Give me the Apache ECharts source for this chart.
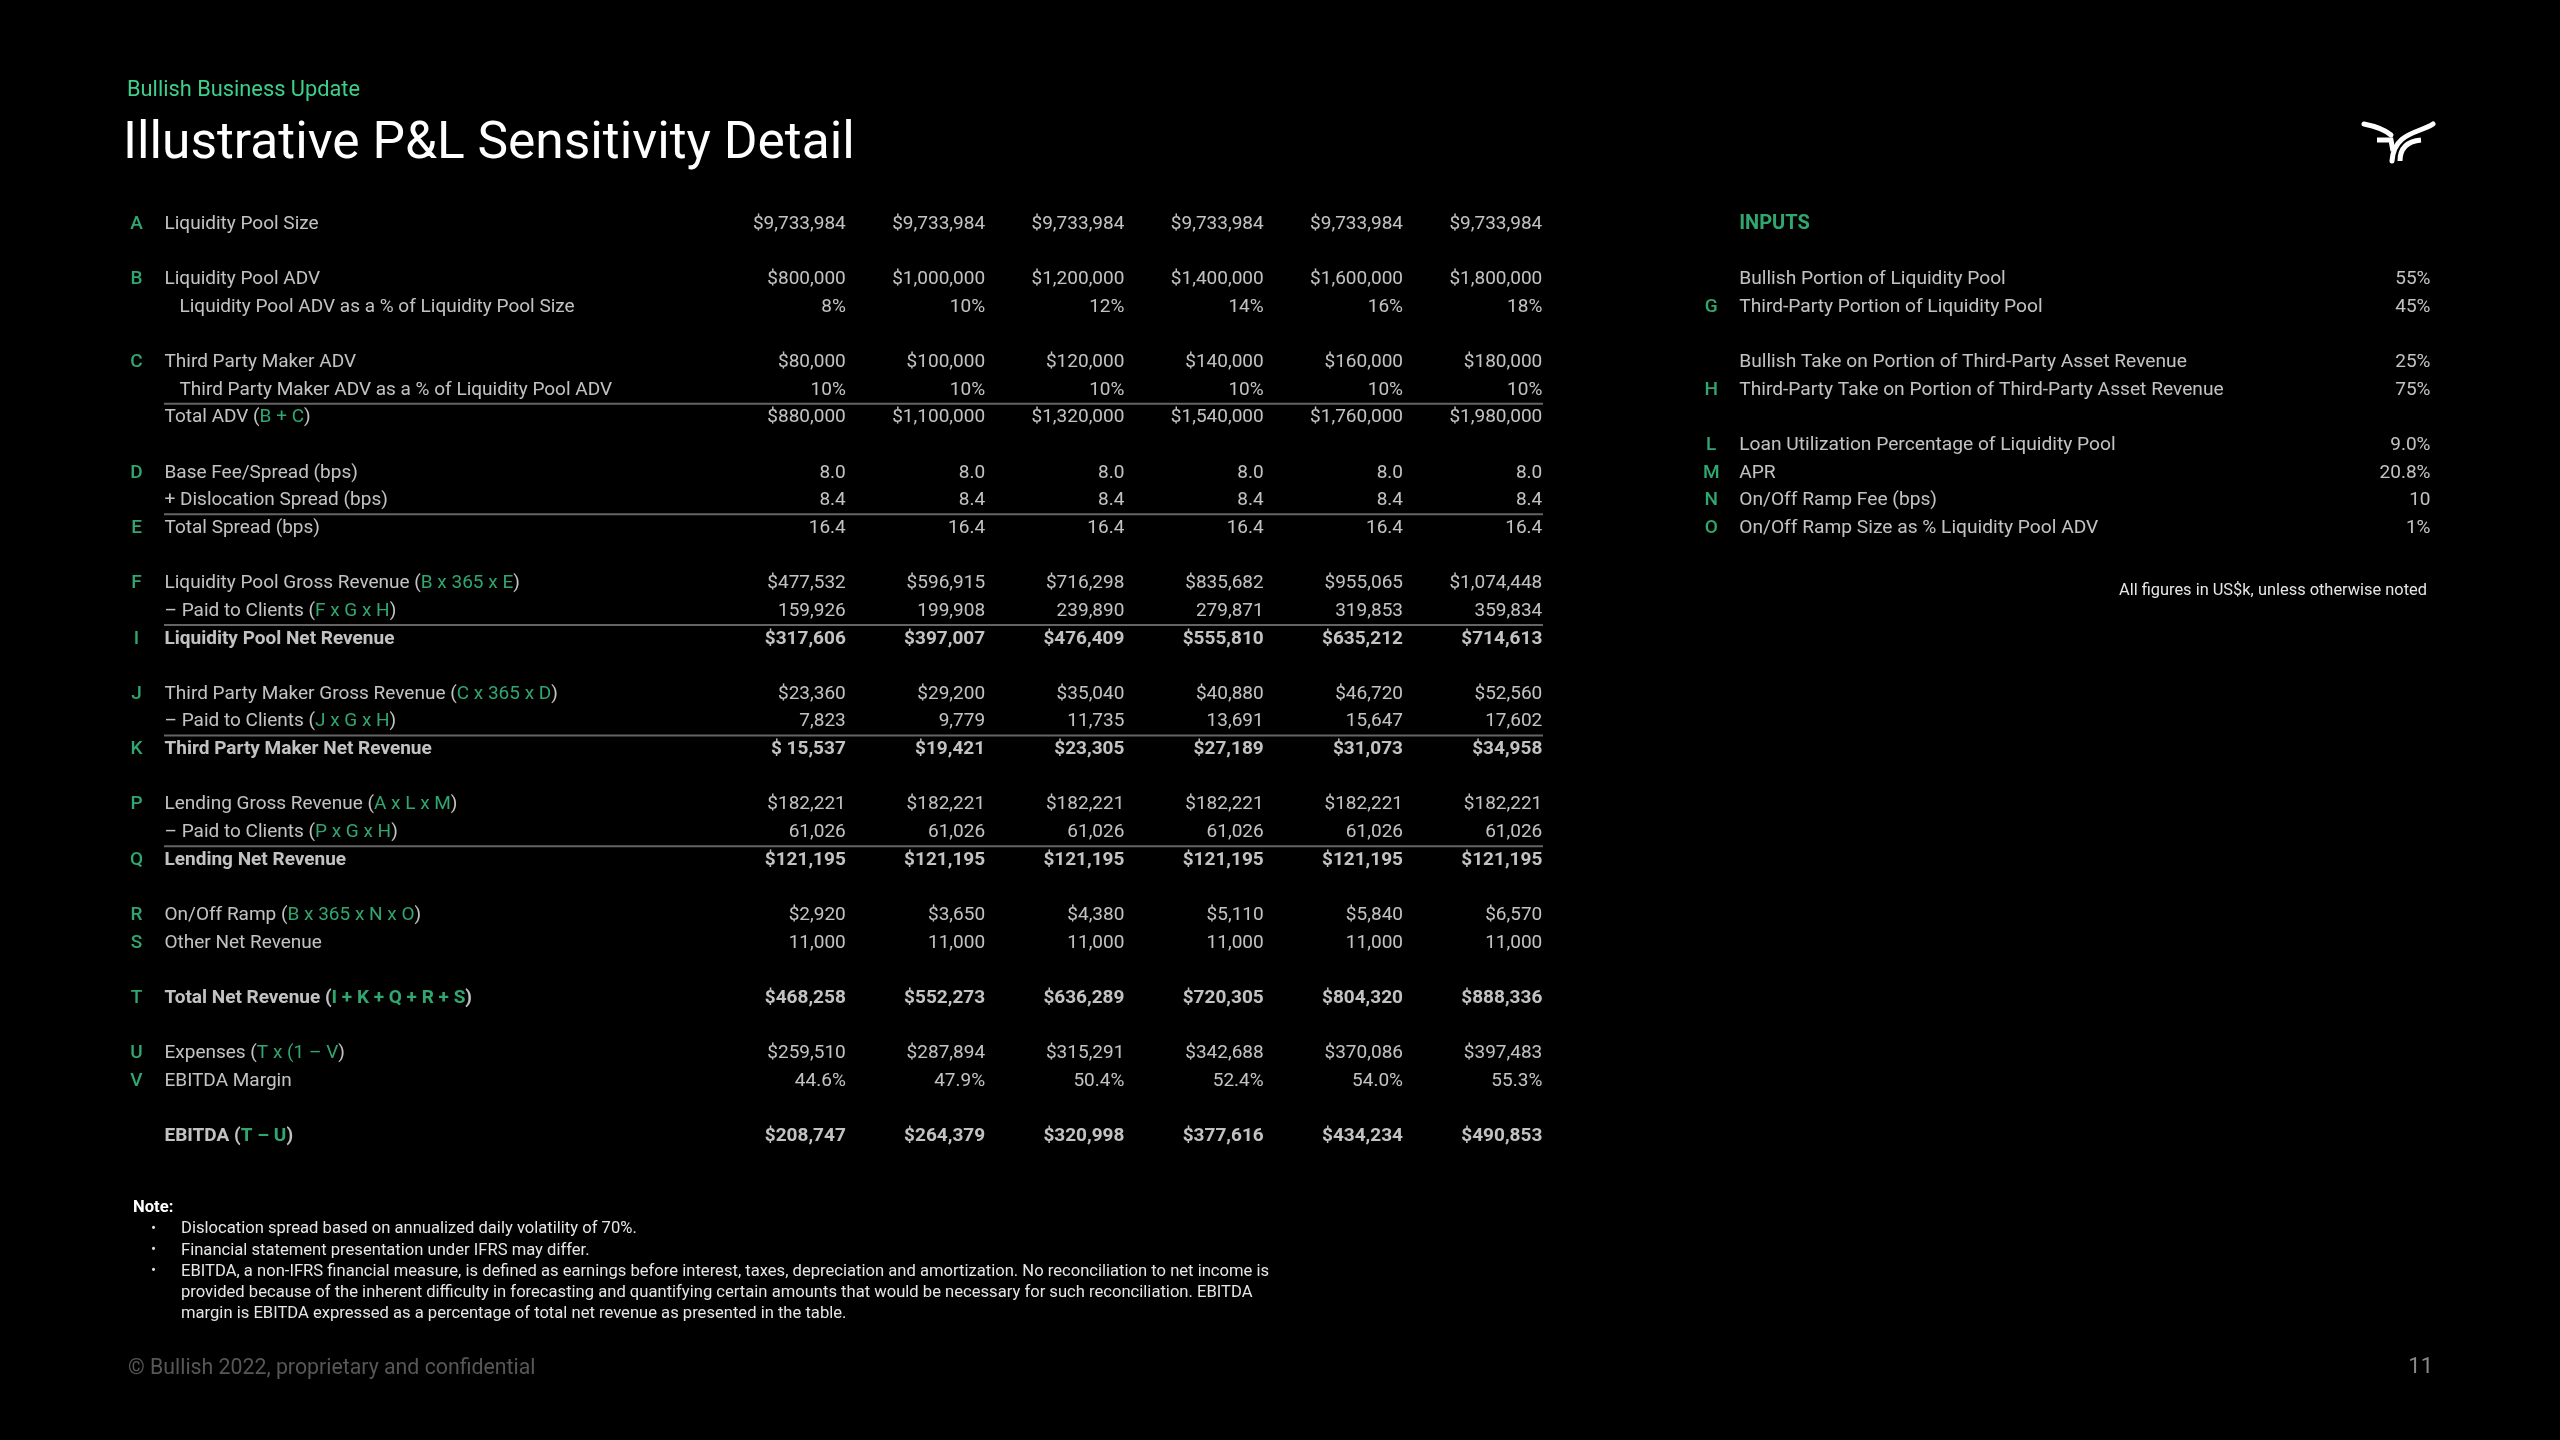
<!DOCTYPE html>
<html><head><meta charset="utf-8">
<script src="https://cdn.jsdelivr.net/npm/echarts@6/dist/echarts.min.js"></script>
<style>html,body{margin:0;padding:0;background:#000;}#c{width:2560px;height:1440px;}</style>
</head><body><div id="c"></div>
<script>
// ---------- DATA ----------
const columns = ['c1', 'c2', 'c3', 'c4', 'c5', 'c6'];
const poolSize      = [9733984, 9733984, 9733984, 9733984, 9733984, 9733984];
const poolADV       = [800000, 1000000, 1200000, 1400000, 1600000, 1800000];
const poolADVPct    = [8, 10, 12, 14, 16, 18];
const makerADV      = [80000, 100000, 120000, 140000, 160000, 180000];
const makerADVPct   = [10, 10, 10, 10, 10, 10];
const totalADV      = [880000, 1100000, 1320000, 1540000, 1760000, 1980000];
const baseFee       = [8.0, 8.0, 8.0, 8.0, 8.0, 8.0];
const dislocation   = [8.4, 8.4, 8.4, 8.4, 8.4, 8.4];
const totalSpread   = [16.4, 16.4, 16.4, 16.4, 16.4, 16.4];
const poolGross     = [477532, 596915, 716298, 835682, 955065, 1074448];
const poolPaid      = [159926, 199908, 239890, 279871, 319853, 359834];
const poolNet       = [317606, 397007, 476409, 555810, 635212, 714613];
const makerGross    = [23360, 29200, 35040, 40880, 46720, 52560];
const makerPaid     = [7823, 9779, 11735, 13691, 15647, 17602];
const makerNet      = [15537, 19421, 23305, 27189, 31073, 34958];
const lendGross     = [182221, 182221, 182221, 182221, 182221, 182221];
const lendPaid      = [61026, 61026, 61026, 61026, 61026, 61026];
const lendNet       = [121195, 121195, 121195, 121195, 121195, 121195];
const rampRev       = [2920, 3650, 4380, 5110, 5840, 6570];
const otherNet      = [11000, 11000, 11000, 11000, 11000, 11000];
const totalNet      = [468258, 552273, 636289, 720305, 804320, 888336];
const expenses      = [259510, 287894, 315291, 342688, 370086, 397483];
const ebitdaMargin  = [44.6, 47.9, 50.4, 52.4, 54.0, 55.3];
const ebitda        = [208747, 264379, 320998, 377616, 434234, 490853];

const inputRows    = [2, 3, 5, 6, 8, 9, 10, 11];
const inputLetters = ['', 'G', '', 'H', 'L', 'M', 'N', 'O'];
const inputLabels  = ['Bullish Portion of Liquidity Pool', 'Third-Party Portion of Liquidity Pool',
  'Bullish Take on Portion of Third-Party Asset Revenue', 'Third-Party Take on Portion of Third-Party Asset Revenue',
  'Loan Utilization Percentage of Liquidity Pool', 'APR', 'On/Off Ramp Fee (bps)', 'On/Off Ramp Size as % Liquidity Pool ADV'];
const inputValues  = ['55%', '45%', '25%', '75%', '9.0%', '20.8%', '10', '1%'];

const separatorRows = [6.5, 10.5, 14.5, 18.5, 22.5];

// table rows: row index, letter, label (rich: {G|..} green), values, format
const tableRows = [
  { row: 0,  letter: 'A', label: 'Liquidity Pool Size', values: poolSize, fmt: 'usd' },
  { row: 2,  letter: 'B', label: 'Liquidity Pool ADV', values: poolADV, fmt: 'usd' },
  { row: 3,  letter: '',  label: 'Liquidity Pool ADV as a % of Liquidity Pool Size', values: poolADVPct, fmt: 'pct', indent: true },
  { row: 5,  letter: 'C', label: 'Third Party Maker ADV', values: makerADV, fmt: 'usd' },
  { row: 6,  letter: '',  label: 'Third Party Maker ADV as a % of Liquidity Pool ADV', values: makerADVPct, fmt: 'pct', indent: true },
  { row: 7,  letter: '',  label: 'Total ADV ({G|B + C})', values: totalADV, fmt: 'usd' },
  { row: 9,  letter: 'D', label: 'Base Fee/Spread (bps)', values: baseFee, fmt: 'dec' },
  { row: 10, letter: '',  label: '+ Dislocation Spread (bps)', values: dislocation, fmt: 'dec' },
  { row: 11, letter: 'E', label: 'Total Spread (bps)', values: totalSpread, fmt: 'dec' },
  { row: 13, letter: 'F', label: 'Liquidity Pool Gross Revenue ({G|B x 365 x E})', values: poolGross, fmt: 'usd' },
  { row: 14, letter: '',  label: '– Paid to Clients ({G|F x G x H})', values: poolPaid, fmt: 'num' },
  { row: 15, letter: 'I', label: 'Liquidity Pool Net Revenue', values: poolNet, fmt: 'usd', bold: true },
  { row: 17, letter: 'J', label: 'Third Party Maker Gross Revenue ({G|C x 365 x D})', values: makerGross, fmt: 'usd' },
  { row: 18, letter: '',  label: '– Paid to Clients ({G|J x G x H})', values: makerPaid, fmt: 'num' },
  { row: 19, letter: 'K', label: 'Third Party Maker Net Revenue', values: makerNet, fmt: 'usd', bold: true, firstPrefix: '$ ' },
  { row: 21, letter: 'P', label: 'Lending Gross Revenue ({G|A x L x M})', values: lendGross, fmt: 'usd' },
  { row: 22, letter: '',  label: '– Paid to Clients ({G|P x G x H})', values: lendPaid, fmt: 'num' },
  { row: 23, letter: 'Q', label: 'Lending Net Revenue', values: lendNet, fmt: 'usd', bold: true },
  { row: 25, letter: 'R', label: 'On/Off Ramp ({G|B x 365 x N x O})', values: rampRev, fmt: 'usd' },
  { row: 26, letter: 'S', label: 'Other Net Revenue', values: otherNet, fmt: 'num' },
  { row: 28, letter: 'T', label: 'Total Net Revenue ({G|I + K + Q + R + S})', values: totalNet, fmt: 'usd', bold: true },
  { row: 30, letter: 'U', label: 'Expenses ({G|T x (1 – V})', values: expenses, fmt: 'usd' },
  { row: 31, letter: 'V', label: 'EBITDA Margin', values: ebitdaMargin, fmt: 'pct1' },
  { row: 33, letter: '',  label: 'EBITDA ({G|T – U})', values: ebitda, fmt: 'usd', bold: true }
];

// ---------- STYLE ----------
const GREEN = '#3dcf8b';
const WHITE = '#f2f2f2';
const FONT = 'Roboto';
const FS = 19;
const TOP = 196.2, HGT = 968.1;

function fmtVal(v, fmt, i, r) {
  const n = Math.round(v).toLocaleString('en-US');
  if (fmt === 'usd') return ((i === 0 && r.firstPrefix) ? r.firstPrefix : '$') + n;
  if (fmt === 'num') return n;
  if (fmt === 'pct') return v + '%';
  if (fmt === 'pct1') return v.toFixed(1) + '%';
  if (fmt === 'dec') return v.toFixed(1);
  return String(v);
}

const yAxisCommon = { type: 'value', inverse: true, min: -1, max: 34, show: false };

const letterData = tableRows.filter(r => r.letter).map(r => ({ value: [0, r.row], text: '{L|' + r.letter + '}' }));
const labelData = tableRows.map(r => ({
  value: [0, r.row],
  text: r.bold ? r.label.replace(/\{G\|/g, '{gb|') : r.label.replace(/\{G\|/g, '{g|'),
  label: { fontWeight: r.bold ? 'bold' : 'normal', padding: [0, 0, 0, r.indent ? 15 : 0] }
}));
const cellData = [];
tableRows.forEach(r => {
  r.values.forEach((v, i) => {
    cellData.push({ value: [i, r.row], text: fmtVal(v, r.fmt, i, r), label: { fontWeight: r.bold ? 'bold' : 'normal' } });
  });
});

const richStyles = {
  g: { color: GREEN, fontFamily: FONT, fontSize: FS, fontWeight: 'normal' },
  gb: { color: GREEN, fontFamily: FONT, fontSize: FS, fontWeight: 'bold' },
  L: { color: GREEN, fontFamily: FONT, fontSize: FS, fontWeight: 500, width: 22, align: 'center' }
};

function textScatter(xi, yi, data, labelOpt) {
  return {
    type: 'scatter', xAxisIndex: xi, yAxisIndex: yi, data: data,
    symbolSize: 1, itemStyle: { color: 'transparent' }, silent: true,
    label: Object.assign({
      show: true, distance: 0, color: WHITE, fontFamily: FONT, fontSize: FS,
      formatter: p => p.data.text, rich: richStyles
    }, labelOpt)
  };
}

const sepStyle = { color: '#646464', width: 2 };
const noteFont = '16.6px Roboto';

const option = {
  backgroundColor: '#000',
  animation: false,
  grid: [
    { left: 164, top: TOP, width: 1379, height: HGT },     // labels + separators
    { left: 846.3, top: TOP, width: 696.5, height: HGT },  // data cells
    { left: 1738.7, top: TOP, width: 692.3, height: HGT }  // inputs
  ],
  xAxis: [
    { gridIndex: 0, type: 'value', min: 0, max: 1, show: false },
    { gridIndex: 1, type: 'category', data: columns, boundaryGap: false, show: false },
    { gridIndex: 2, type: 'value', min: 0, max: 1, show: false }
  ],
  yAxis: [
    Object.assign({ gridIndex: 0 }, yAxisCommon),
    Object.assign({ gridIndex: 1 }, yAxisCommon),
    Object.assign({ gridIndex: 2 }, yAxisCommon)
  ],
  series: [
    ...separatorRows.map(r => ({
      type: 'line', xAxisIndex: 0, yAxisIndex: 0, silent: true, symbol: 'none',
      lineStyle: sepStyle, data: [[0, r], [1, r]]
    })),
    textScatter(0, 0, letterData, { position: 'left', distance: 16 }),
    textScatter(0, 0, labelData, { position: 'right' }),
    textScatter(1, 1, cellData, { position: 'left' }),
    // inputs panel
    textScatter(2, 2, [{ value: [0, 0], text: 'INPUTS' }], { position: 'right', color: GREEN, fontWeight: 'bold', fontSize: 20 }),
    textScatter(2, 2, inputRows.map((r, i) => ({ value: [0, r], text: inputLetters[i] ? '{L|' + inputLetters[i] + '}' : '' })), { position: 'left', distance: 16 }),
    textScatter(2, 2, inputRows.map((r, i) => ({ value: [0, r], text: inputLabels[i] })), { position: 'right', fontSize: 19.2 }),
    textScatter(2, 2, inputRows.map((r, i) => ({ value: [1, r], text: inputValues[i] })), { position: 'left' })
  ],
  graphic: [
    { type: 'text', x: 127, y: 91, style: { text: 'Bullish Business Update', fill: GREEN, font: '21.8px Roboto', verticalAlign: 'middle' } },
    { type: 'text', x: 123, y: 145, style: { text: 'Illustrative P&L Sensitivity Detail', fill: '#ffffff', font: '51.5px Roboto', verticalAlign: 'middle' } },
    { type: 'text', x: 2427, y: 591, style: { text: 'All figures in US$k, unless otherwise noted', fill: '#e6e6e6', font: '16.4px Roboto', align: 'right', verticalAlign: 'middle' } },
    { type: 'text', x: 133, y: 1208, style: { text: 'Note:', fill: '#ffffff', font: 'bold 16.6px Roboto', verticalAlign: 'middle' } },
    { type: 'text', x: 151, y: 1229.3, style: { text: '•', fill: '#dddddd', font: '15px Roboto', verticalAlign: 'middle' } },
    { type: 'text', x: 151, y: 1250.7, style: { text: '•', fill: '#dddddd', font: '15px Roboto', verticalAlign: 'middle' } },
    { type: 'text', x: 151, y: 1271.7, style: { text: '•', fill: '#dddddd', font: '15px Roboto', verticalAlign: 'middle' } },
    { type: 'text', x: 181, y: 1229.3, style: { text: 'Dislocation spread based on annualized daily volatility of 70%.', fill: '#e6e6e6', font: noteFont, verticalAlign: 'middle' } },
    { type: 'text', x: 181, y: 1250.7, style: { text: 'Financial statement presentation under IFRS may differ.', fill: '#e6e6e6', font: noteFont, verticalAlign: 'middle' } },
    { type: 'text', x: 181, y: 1271.7, style: { text: 'EBITDA, a non-IFRS financial measure, is defined as earnings before interest, taxes, depreciation and amortization. No reconciliation to net income is', fill: '#e6e6e6', font: noteFont, verticalAlign: 'middle' } },
    { type: 'text', x: 181, y: 1292.7, style: { text: 'provided because of the inherent difficulty in forecasting and quantifying certain amounts that would be necessary for such reconciliation. EBITDA', fill: '#e6e6e6', font: noteFont, verticalAlign: 'middle' } },
    { type: 'text', x: 181, y: 1314, style: { text: 'margin is EBITDA expressed as a percentage of total net revenue as presented in the table.', fill: '#e6e6e6', font: noteFont, verticalAlign: 'middle' } },
    { type: 'text', x: 128, y: 1369, style: { text: '© Bullish 2022, proprietary and confidential', fill: '#575757', font: '21.3px Roboto', verticalAlign: 'middle' } },
    { type: 'text', x: 2433, y: 1367, style: { text: '11', fill: '#8a8a8a', font: '22px Roboto', align: 'right', verticalAlign: 'middle' } },
    // logo
    { type: 'bezierCurve', shape: { x1: 2364, y1: 124, cpx1: 2374, cpy1: 126, cpx2: 2384, cpy2: 129, x2: 2391, y2: 135 }, style: { stroke: '#fff', lineWidth: 5, fill: null, lineCap: 'round' } },
    { type: 'polyline', shape: { points: [[2377, 140], [2391, 140], [2393, 151]] }, style: { stroke: '#fff', lineWidth: 5, fill: null } },
    { type: 'bezierCurve', shape: { x1: 2433, y1: 124, cpx1: 2420, cpy1: 133, cpx2: 2394, cpy2: 132, x2: 2392, y2: 161 }, style: { stroke: '#fff', lineWidth: 5, fill: null, lineCap: 'round' } },
    { type: 'bezierCurve', shape: { x1: 2421, y1: 140, cpx1: 2410, cpy1: 141, cpx2: 2400, cpy2: 146, x2: 2400, y2: 161 }, style: { stroke: '#fff', lineWidth: 5, fill: null } }
  ]
};

const chart = echarts.init(document.getElementById('c'), null, { renderer: 'canvas' });
chart.setOption(option);
</script>
</body></html>
